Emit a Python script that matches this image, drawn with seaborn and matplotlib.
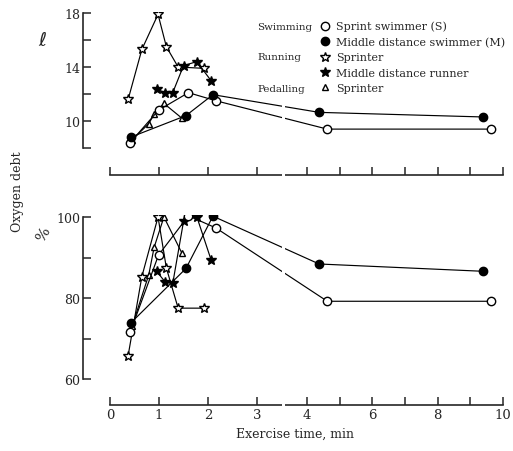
import matplotlib
matplotlib.use('Agg')
import matplotlib.pyplot as plt
from matplotlib.lines import Line2D
import numpy as np
import pandas as pd
import seaborn as sns

# exercise time (min) and oxygen debt, upper panel in litres, lower panel in % of max
swim_s_t = [0.41, 0.99, 1.60, 2.16, 4.62, 9.63]
swim_s_l = [8.4, 10.8, 12.1, 11.5, 9.4, 9.4]
swim_s_p = [71.5, 90.6, 100.3, 97.3, 79.2, 79.2]

swim_m_t = [0.42, 1.55, 2.10, 4.37, 9.38]
swim_m_l = [8.8, 10.4, 11.95, 10.64, 10.3]
swim_m_p = [73.8, 87.3, 100.2, 88.4, 86.6]

run_s_t = [0.37, 0.65, 0.98, 1.15, 1.39, 1.92]
run_s_l = [11.6, 15.3, 17.9, 15.5, 14.0, 13.9]
run_s_p = [65.8, 85.3, 100.0, 87.4, 77.5, 77.5]

run_m_t = [0.95, 1.13, 1.28, 1.50, 1.77, 2.06]
run_m_l = [12.35, 12.1, 12.1, 14.1, 14.4, 13.0]
run_m_p = [86.6, 83.9, 83.6, 98.9, 100.1, 89.5]

ped_s_t = [0.45, 0.79, 0.90, 1.10, 1.47]
ped_s_l = [8.6, 9.8, 10.5, 11.3, 10.2]
ped_s_p = [73.0, 85.7, 92.5, 100.0, 91.0]

xticks = [0, 1, 2, 3, 4, 5, 6, 7, 8, 9, 10]
xticklabels = ['0', '1', '2', '3', '4', '', '6', '', '8', '', '10']

SERIF = ['DejaVu Serif', 'DejaVu Sans']


def brk(t):
    # broken time axis: 0-3.5 min full scale, beyond that compressed
    t = np.asarray(t, dtype=float)
    return np.where(t <= 3.5, t, 4.02 + (t - 4) * 2.0 / 3.0)


def build_frame():
    rows = []
    series = [
        ('swim_s', swim_s_t, swim_s_l, swim_s_p),
        ('swim_m', swim_m_t, swim_m_l, swim_m_p),
        ('run_s', run_s_t, run_s_l, run_s_p),
        ('run_m', run_m_t, run_m_l, run_m_p),
        ('ped_s', ped_s_t, ped_s_l, ped_s_p),
    ]
    for name, t, l, p in series:
        for i in range(len(t)):
            rows.append({'series': name, 't': t[i], 'x': float(brk(t[i])),
                         'litre': l[i], 'pct': p[i]})
    return pd.DataFrame(rows)


styles = {
    'swim_s': dict(marker='o', markerfacecolor='white', markersize=6.0, zorder=4),
    'swim_m': dict(marker='o', markerfacecolor='black', markersize=6.0, zorder=4),
    'run_s': dict(marker='*', markerfacecolor='white', markersize=7.0, zorder=3),
    'run_m': dict(marker='*', markerfacecolor='black', markersize=7.0, zorder=3),
    'ped_s': dict(marker='^', markerfacecolor='white', markersize=4.2, zorder=3),
}


def style_axis(ax, ylim, ybounds, yticks, yticklabels, labels_bottom):
    ax.set_xlim(-0.551, 8.1)
    ax.set_ylim(*ylim)
    for s in ['top', 'right']:
        ax.spines[s].set_visible(False)
    ax.spines['left'].set_bounds(*ybounds)
    ax.spines['bottom'].set_bounds(0, float(brk(10)))
    for s in ['left', 'bottom']:
        ax.spines[s].set_linewidth(1.2)
    ax.set_yticks(yticks)
    ax.set_yticklabels(yticklabels, family=SERIF, fontsize=9)
    ax.set_xticks(brk(xticks))
    if labels_bottom:
        ax.set_xticklabels(xticklabels, family=SERIF, fontsize=9.5)
    else:
        ax.set_xticklabels([])
    ax.tick_params(direction='in', length=6, width=1.1, pad=2)
    ax.set_xlabel('')
    ax.set_ylabel('')
    # gap where the time axis is broken
    gap = ax.axvspan(3.5, 3.57, ymin=-0.03, ymax=1.0, color='white', zorder=6, lw=0)
    gap.set_clip_on(False)


def main():
    df = build_frame()
    sns.set_style('ticks')
    fig = plt.figure(figsize=(5.13, 4.52), dpi=100)
    ax1 = fig.add_axes([0.1618, 0.6106, 0.8265, 0.3614])
    ax2 = fig.add_axes([0.1618, 0.1018, 0.8265, 0.4204])

    for name, st in styles.items():
        sub = df[df['series'] == name]
        for ax, col in [(ax1, 'litre'), (ax2, 'pct')]:
            sns.lineplot(data=sub, x='x', y=col, ax=ax, color='black', lw=0.85,
                         estimator=None, sort=False, markeredgecolor='black',
                         markeredgewidth=1.0, **st)

    style_axis(ax1, (6, 18.1), (8, 18), [8, 10, 12, 14, 16, 18],
               ['', '10', '', '14', '', '18'], False)
    style_axis(ax2, (53.6, 100.5), (60, 100), [60, 70, 80, 90, 100],
               ['60', '', '80', '', '100'], True)

    # legend
    labels = ['Sprint swimmer (S)', 'Middle distance swimmer (M)', 'Sprinter',
              'Middle distance runner', 'Sprinter']
    handles = []
    for name in ['swim_s', 'swim_m', 'run_s', 'run_m', 'ped_s']:
        st = dict(styles[name])
        st.pop('zorder')
        handles.append(Line2D([], [], color='black', ls='none',
                              markeredgecolor='black', **st))
    ax1.legend(handles, labels, loc='upper left', bbox_to_anchor=(0.623, 0.9515),
               bbox_transform=fig.transFigure, frameon=False, handlelength=1.0,
               handletextpad=0.45, borderpad=0, borderaxespad=0, labelspacing=0.48,
               prop={'family': SERIF, 'size': 8.0})
    for txt, ypx in [('Swimming', 27.7), ('Running', 58), ('Pedalling', 89)]:
        fig.text(257 / 513, 1 - ypx / 452, txt, ha='left', va='center',
                 family=SERIF, fontsize=7.4)

    fig.text(18 / 513, 1 - 192 / 452, 'Oxygen debt', rotation=90, ha='center',
             va='center', family=SERIF, fontsize=9)
    fig.text(42 / 513, 1 - 40 / 452, 'ℓ', rotation=0, ha='center', va='center',
             family=['DejaVu Sans'], fontsize=14)
    fig.text(43 / 513, 1 - 235 / 452, '%', rotation=60, ha='center', va='center',
             family=SERIF, fontsize=11)
    fig.text(295 / 513, 1 - 434 / 452, 'Exercise time, min', ha='center',
             va='center', family=SERIF, fontsize=9)

    fig.savefig('out.png', dpi=100)
    plt.close('all')


if __name__ == '__main__':
    main()
